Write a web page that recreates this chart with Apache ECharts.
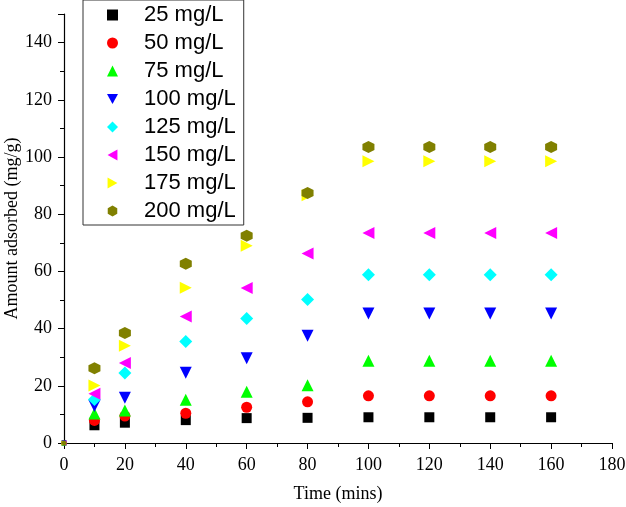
<!DOCTYPE html>
<html>
<head>
<meta charset="utf-8">
<script src="https://cdn.jsdelivr.net/npm/echarts@6/dist/echarts.min.js"></script>
<style>
  html, body { margin: 0; padding: 0; background: #fff; }
  #chart { width: 626px; height: 507px; }
</style>
</head>
<body>
<div id="chart"></div>
<script>
// time points (mins)
var times = [0, 10, 20, 40, 60, 80, 100, 120, 140, 160];

// amount adsorbed (mg/g) per initial concentration
var c25  = [0, 6.2, 7.1, 8.0, 8.7, 8.8, 9.0, 9.0, 9.0, 9.0];
var c50  = [0, 7.9, 9.4, 10.4, 12.5, 14.4, 16.5, 16.5, 16.5, 16.5];
var c75  = [0, 10.3, 11.4, 15.1, 17.9, 20.2, 28.8, 28.8, 28.8, 28.8];
var c100 = [0, 12.9, 15.8, 24.6, 29.6, 37.5, 45.3, 45.3, 45.3, 45.3];
var c125 = [0, 15.2, 24.5, 35.5, 43.5, 50.2, 58.8, 58.8, 58.8, 58.8];
var c150 = [0, 17.2, 28.0, 44.2, 54.2, 66.3, 73.4, 73.4, 73.4, 73.4];
var c175 = [0, 20.1, 34.0, 54.3, 69.0, 86.6, 98.5, 98.5, 98.5, 98.5];
var c200 = [0, 26.1, 38.5, 62.7, 72.5, 87.4, 103.5, 103.5, 103.5, 103.5];

var names = ['25 mg/L', '50 mg/L', '75 mg/L', '100 mg/L', '125 mg/L', '150 mg/L', '175 mg/L', '200 mg/L'];
var values = [c25, c50, c75, c100, c125, c150, c175, c200];
var colors = ['#000000', '#ff0000', '#00ff00', '#0000ff', '#00ffff', '#ff00ff', '#ffff00', '#808000'];

var hexagon = 'path://M5,0 L9.33,2.5 L9.33,7.5 L5,10 L0.67,7.5 L0.67,2.5 Z';
var symbols = ['rect', 'circle', 'triangle', 'triangle', 'diamond', 'triangle', 'triangle', hexagon];
var rotations = [0, 0, 0, 180, 0, 90, -90, 0];
var sizes = [10, 11, 12, 12, 13, 12, 12, 12];

// legend icons (legend does not pick up the rotation)
var legendIcons = [
  'rect', 'circle', 'triangle',
  'path://M0,0 L10,0 L5,9 Z',
  'diamond',
  'path://M9,0 L9,10 L0,5 Z',
  'path://M0,0 L0,10 L9,5 Z',
  hexagon
];

var chart = echarts.init(document.getElementById('chart'));

var series = names.map(function (name, i) {
  return {
    name: name,
    type: 'scatter',
    symbol: symbols[i],
    symbolRotate: rotations[i],
    symbolSize: sizes[i],
    itemStyle: { color: colors[i], opacity: 1 },
    clip: false,
    data: times.map(function (t, j) {
      if (j === 0) return { value: [t, values[i][j]], symbolSize: 5 };
      return [t, values[i][j]];
    })
  };
});

var axisText = { fontFamily: 'Liberation Serif', fontSize: 18, color: '#000' };

chart.setOption({
  animation: false,
  grid: { left: 64, right: 14, top: 14, bottom: 64, outerBoundsMode: 'none', containLabel: false },
  legend: {
    orient: 'vertical',
    left: 83,
    top: 0,
    padding: [1, 8, 0, 24],
    itemWidth: 11,
    itemHeight: 11,
    itemGap: 0,
    borderColor: '#333',
    borderWidth: 1,
    textStyle: {
      fontFamily: 'Liberation Sans',
      fontSize: 22,
      lineHeight: 28,
      color: '#000',
      padding: [0, 0, 0, 21]
    },
    data: names.map(function (n, i) { return { name: n, icon: legendIcons[i] }; })
  },
  xAxis: {
    type: 'value',
    min: 0,
    max: 180,
    interval: 20,
    name: 'Time (mins)',
    nameLocation: 'middle',
    nameGap: 42,
    nameMoveOverlap: false,
    nameTextStyle: axisText,
    axisLine: { show: true, lineStyle: { color: '#000', width: 1.2 } },
    axisTick: { show: true, inside: false, length: 6, lineStyle: { color: '#000' } },
    minorTick: { show: true, splitNumber: 2, length: 4, lineStyle: { color: '#000' } },
    splitLine: { show: false },
    axisLabel: Object.assign({ margin: 13 }, axisText)
  },
  yAxis: {
    type: 'value',
    min: 0,
    max: 150,
    interval: 20,
    name: 'Amount adsorbed (mg/g)',
    nameLocation: 'middle',
    nameGap: 43,
    nameMoveOverlap: false,
    nameTextStyle: axisText,
    axisLine: { show: true, lineStyle: { color: '#000', width: 1.2 } },
    axisTick: { show: true, inside: false, length: 6, lineStyle: { color: '#000' } },
    minorTick: { show: true, splitNumber: 2, length: 4, lineStyle: { color: '#000' } },
    splitLine: { show: false },
    axisLabel: Object.assign({ margin: 12, showMaxLabel: false }, axisText)
  },
  series: series
});
</script>
</body>
</html>
